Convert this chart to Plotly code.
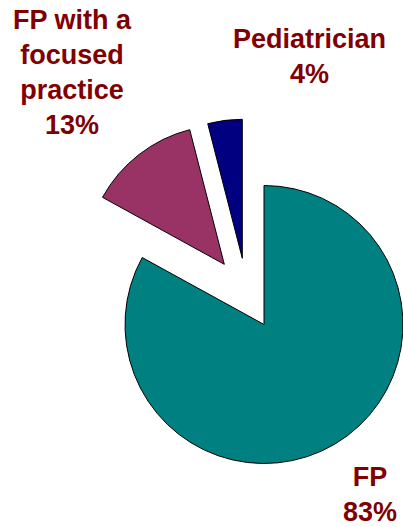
import plotly.graph_objects as go

# ---- data ----
labels = ["FP", "FP with a focused practice", "Pediatrician"]
label_lines = ["FP", "FP with a<br>focused<br>practice", "Pediatrician"]
values = [83, 13, 4]
colors = ["#008080", "#993366", "#000080"]

# ---- layout / style ----
W, H = 403, 527
R = 139
# pixel centre of each (exploded) slice
centers = [(264, 324.5), (224.3, 264.3), (242.3, 258.3)]
label_pos = [(370, 494.7), (72, 72.5), (309, 56.7)]
text_color = "#800000"
font_family = "Liberation Sans, Arial, sans-serif"

total = sum(values)
fig = go.Figure()
for i, (cx, cy) in enumerate(centers):
    cols = [colors[j] if j == i else "rgba(0,0,0,0)" for j in range(len(values))]
    lw = [1 if j == i else 0 for j in range(len(values))]
    fig.add_trace(go.Pie(
        labels=labels,
        values=values,
        sort=False,
        direction="clockwise",
        rotation=0,
        textinfo="none",
        hoverinfo="label+percent" ,
        showlegend=False,
        marker=dict(colors=cols, line=dict(color="black", width=lw)),
        domain=dict(x=[(cx - R) / W, (cx + R) / W],
                    y=[(H - cy - R) / H, (H - cy + R) / H]),
    ))

for i, (lx, ly) in enumerate(label_pos):
    pct = round(100 * values[i] / total)
    fig.add_annotation(
        x=lx / W, y=1 - ly / H, xref="paper", yref="paper",
        xanchor="center", yanchor="middle",
        text=f"<b>{label_lines[i]}<br>{pct}%</b>",
        showarrow=False,
        font=dict(family=font_family, size=27, color=text_color),
        align="center",
    )

fig.update_layout(
    width=W, height=H,
    margin=dict(l=0, r=0, t=0, b=0),
    paper_bgcolor="white", plot_bgcolor="white",
)
fig.write_html("out.html")
